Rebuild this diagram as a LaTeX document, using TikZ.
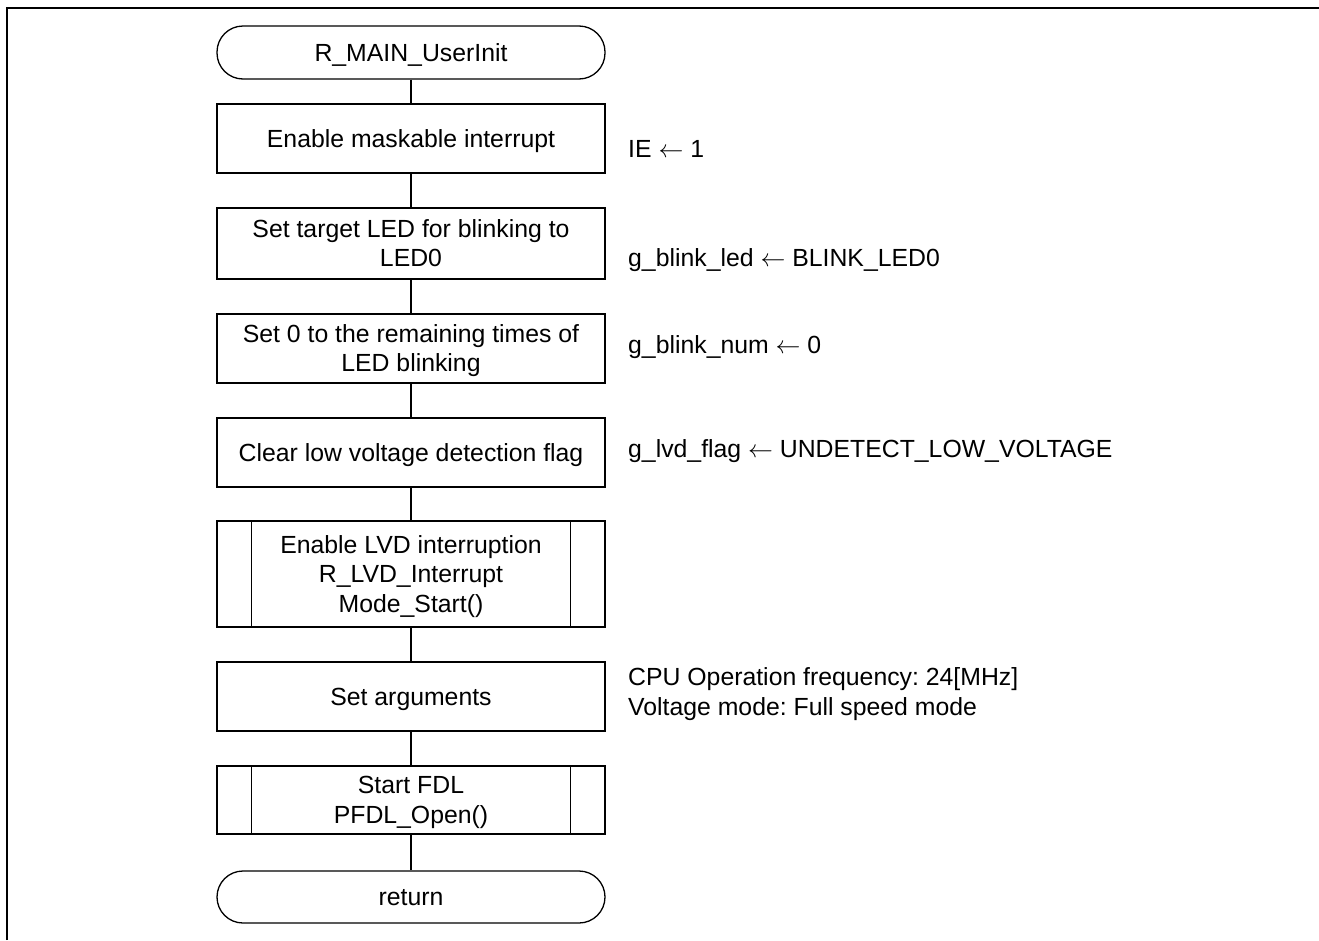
\documentclass[tikz,border=0pt]{standalone}
\usepackage{fontspec}
\setmainfont{Liberation Sans}
\usetikzlibrary{calc}
\frenchspacing
\begin{document}
\begin{tikzpicture}[x=1pt,y=-1pt,
  txt/.style={font=\fontsize{24.8}{29.5}\selectfont},
  base/.style={txt, draw, line width=1.3pt, minimum width=388pt, inner sep=0pt, align=center},
  proc/.style={base, rectangle},
  term/.style={base, rectangle, rounded corners=26pt},
  one/.style={text height=18pt, text depth=1pt},
  two/.style={text height=47.5pt, text depth=1pt},
  three/.style={text height=77pt, text depth=1pt},
  note/.style={txt, anchor=base west, align=left, inner sep=0pt},
  flow/.style={line width=1.3pt}]
\useasboundingbox (0,0) rectangle (1319,940);
% frame
\draw[line width=2.5pt] (7,940) -- (7,8) -- (1319,8);

\node[term, one, minimum height=53pt] (n1) at (411,52.5) {R\_MAIN\_UserInit};
\node[proc, one, minimum height=69pt] (n2) at (411,138.5) {Enable maskable interrupt};
\node[proc, two, minimum height=71pt] (n3) at (411,243.5) {Set target LED for blinking to\\LED0};
\node[proc, two, minimum height=69pt] (n4) at (411,348.5) {Set 0 to the remaining times of\\LED blinking};
\node[proc, one, minimum height=69pt] (n5) at (411,452.5) {Clear low voltage detection flag};
\node[proc, three, minimum height=106pt] (n6) at (411,574) {Enable LVD interruption\\R\_LVD\_Interrupt\\Mode\_Start()};
\node[proc, one, minimum height=69pt] (n7) at (411,696.5) {Set arguments};
\node[proc, two, minimum height=68pt] (n8) at (411,800) {Start FDL\\PFDL\_Open()};
\node[term, one, minimum height=52pt] (n9) at (411,897) {return};

% predefined process side bars
\foreach \n in {n6,n8}{
  \draw[flow] ($(\n.north west)+(35,0)$) -- ($(\n.south west)+(35,0)$);
  \draw[flow] ($(\n.north east)+(-35,0)$) -- ($(\n.south east)+(-35,0)$);
}

% connectors
\draw[flow] (n1) -- (n2);
\draw[flow] (n2) -- (n3);
\draw[flow] (n3) -- (n4);
\draw[flow] (n4) -- (n5);
\draw[flow] (n5) -- (n6);
\draw[flow] (n6) -- (n7);
\draw[flow] (n7) -- (n8);
\draw[flow] (n8) -- (n9);

% notes
\node[note] (c2) at (628,157) {IE $\leftarrow$ 1};
\node[note] (c3) at (628,266) {g\_blink\_led $\leftarrow$ BLINK\_LED0};
\node[note] (c4) at (628,353) {g\_blink\_num $\leftarrow$ 0};
\node[note] (c5) at (628,457) {g\_lvd\_flag $\leftarrow$ UNDETECT\_LOW\_VOLTAGE};
\node[txt, anchor=west, align=left, inner sep=0pt] (c7) at (628,694) {CPU Operation frequency: 24[MHz]\\Voltage mode: Full speed mode};
\end{tikzpicture}
\end{document}
